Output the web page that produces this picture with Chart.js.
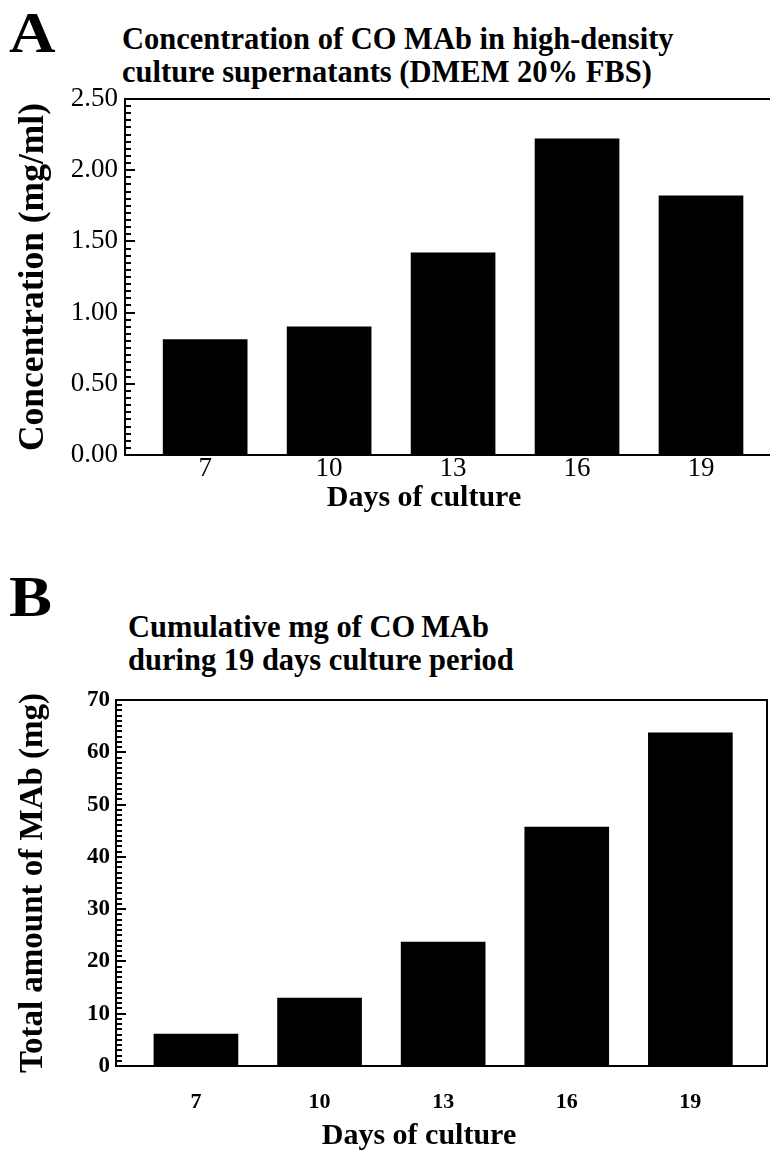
<!DOCTYPE html>
<html>
<head>
<meta charset="utf-8">
<script src="https://cdn.jsdelivr.net/npm/chart.js@4.4.1/dist/chart.umd.min.js"></script>
<style>
  body { margin: 0; background: #fff; width: 770px; height: 1150px; position: relative; overflow: hidden; }
  .serif { font-family: "Liberation Serif", "Times New Roman", serif; font-weight: bold; color: #000; position: absolute; white-space: nowrap; }
  .panel { font-size: 56px; line-height: 56px; transform: scaleX(1.15); transform-origin: left top; }
  .title { font-size: 30.5px; line-height: 33px; }
  .xtitle { font-size: 30px; line-height: 30px; transform: translateX(-50%); }
  canvas { position: absolute; left: 0; }
</style>
</head>
<body>
<div class="serif panel" style="left:9px; top:5px;">A</div>
<div class="serif title" style="left:122px; top:23px;">Concentration of CO MAb in high-density<br>culture supernatants (DMEM 20% FBS)</div>
<canvas id="chartA" width="770" height="455" style="top:70px;"></canvas>
<div class="serif xtitle" style="left:424px; top:481px;">Days of culture</div>

<div class="serif panel" style="left:9px; top:569px;">B</div>
<div class="serif title" style="left:128px; top:611px;">Cumulative mg of CO&#8201;MAb<br>during 19 days culture period</div>
<canvas id="chartB" width="770" height="470" style="top:680px;"></canvas>
<div class="serif xtitle" style="left:419px; top:1119px;">Days of culture</div>

<script>
const days = [7, 10, 13, 16, 19];
const concentration = [0.81, 0.90, 1.42, 2.22, 1.82];   // mg/ml
const cumulativeMg = [6.1, 13.0, 23.7, 45.7, 63.7];     // mg

const SERIF = '"Liberation Serif", "Times New Roman", serif';
Chart.defaults.color = '#000';
Chart.defaults.animation = false;

// small tick marks on the inside of the y axis, major ones longer
function innerTicks(minorStep, perMajor) {
    return {
        id: 'innerTicks',
        afterDraw(chart) {
            const y = chart.scales.y;
            const ctx = chart.ctx;
            const x0 = chart.chartArea.left;
            const n = Math.round((y.max - y.min) / minorStep);
            ctx.save();
            ctx.strokeStyle = '#000';
            ctx.lineWidth = 2;
            for (let i = 0; i <= n; i++) {
                const py = Math.round(y.getPixelForValue(y.min + i * minorStep));
                const major = i % perMajor === 0;
                ctx.beginPath();
                ctx.moveTo(x0, py);
                ctx.lineTo(x0 + (major ? 10 : 6), py);
                ctx.stroke();
            }
            ctx.restore();
        }
    };
}

// an axis that only draws its border line (box edges)
function edgeAxis(position, min, max) {
    const horizontal = position === 'top' || position === 'bottom';
    return {
        type: 'linear', position, min, max, display: true, offset: false,
        ticks: { display: false },
        grid: { drawOnChartArea: false, drawTicks: false },
        border: { color: '#000', width: 2 },
        afterFit: s => { if (horizontal) s.height = 0; else s.width = 0; }
    };
}

function drawPanel(id, values, cfg) {
    const scales = {
        x: {
            type: 'linear', position: 'bottom', min: cfg.xMin, max: cfg.xMax, offset: false,
            afterBuildTicks: s => { s.ticks = days.map(d => ({ value: d })); },
            grid: { drawOnChartArea: false, drawTicks: false },
            border: { color: '#000', width: 2 },
            ticks: { font: cfg.xTickFont, padding: cfg.xTickPad, maxRotation: 0, autoSkip: false },
            afterFit: s => { s.height = cfg.xHeight; }
        },
        xTop: edgeAxis('top', cfg.xMin, cfg.xMax),
        y: {
            type: 'linear', position: 'left', min: 0, max: cfg.yMax,
            ticks: { stepSize: cfg.yStep, font: cfg.yTickFont, padding: cfg.yTickPad, callback: cfg.yFormat },
            grid: { drawOnChartArea: false, drawTicks: false },
            border: { color: '#000', width: 2 },
            title: { display: true, text: cfg.yTitle, font: { family: SERIF, size: cfg.yTitleSize, weight: 'bold', lineHeight: 1 }, padding: { top: cfg.yTitlePad, bottom: 0 } },
            afterFit: s => { s.width = cfg.yWidth; }
        }
    };
    if (cfg.rightEdge) scales.yRight = edgeAxis('right', 0, cfg.yMax);

    new Chart(document.getElementById(id), {
        type: 'bar',
        data: {
            labels: days,
            datasets: [{ data: values, backgroundColor: '#000', borderWidth: 0, barThickness: 84 }]
        },
        options: {
            responsive: false,
            layout: { padding: cfg.padding },
            plugins: { legend: { display: false }, tooltip: { enabled: false } },
            scales
        },
        plugins: [innerTicks(cfg.yMinorStep, Math.round(cfg.yStep / cfg.yMinorStep))]
    });
}

drawPanel('chartA', concentration, {
    xMin: 5.06, xMax: 20.67, yMax: 2.5, yStep: 0.5, yMinorStep: 0.05,
    yFormat: v => v.toFixed(2),
    yTitle: 'Concentration (mg/ml)', yTitleSize: 35.5, yTitlePad: 16,
    yTickFont: { family: SERIF, size: 27, lineHeight: 1 }, yTickPad: 7,
    xTickFont: { family: SERIF, size: 27, lineHeight: 1 }, xTickPad: 0,
    xHeight: 70, yWidth: 125,
    padding: { top: 29, right: 0, bottom: 0, left: 0 }
});

drawPanel('chartB', cumulativeMg, {
    xMin: 5.06, xMax: 20.86, yMax: 70, yStep: 10, yMinorStep: 1,
    yFormat: v => String(v),
    yTitle: 'Total amount of MAb (mg)', yTitleSize: 33, yTitlePad: 17,
    yTickFont: { family: SERIF, size: 23, weight: 'bold', lineHeight: 1 }, yTickPad: 6,
    xTickFont: { family: SERIF, size: 22, weight: 'bold', lineHeight: 1 }, xTickPad: 25,
    xHeight: 84, yWidth: 116, rightEdge: true,
    padding: { top: 20, right: 3, bottom: 0, left: 0 }
});
</script>
</body>
</html>
